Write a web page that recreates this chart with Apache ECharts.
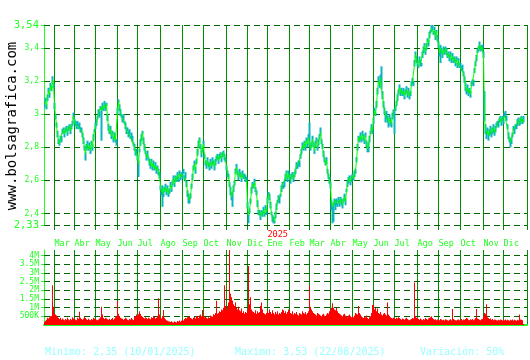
<!DOCTYPE html>
<html><head><meta charset="utf-8">
<script src="https://cdn.jsdelivr.net/npm/echarts@6/dist/echarts.min.js"></script>
<style>html,body{margin:0;padding:0;background:#fff}#c{width:530px;height:360px}</style>
</head><body><div id="c"></div>
<script>
// Month labels and the trading-day index where each month starts
const monthLabels = ['Mar','Abr','May','Jun','Jul','Ago','Sep','Oct','Nov','Dic','Ene','Feb','Mar','Abr','May','Jun','Jul','Ago','Sep','Oct','Nov','Dic'];
const monthStarts = [10,30,51,73,93,116,138,159,182,203,223,245,265,286,308,329,350,373,394,416,439,459];
const yearLabels = ['2025'];
const yearStarts = [223];

// Daily close price (Feb 2024 tail .. Dec 2025)
const closePrice = [
3.06,3.08,3.05,3.10,3.14,3.12,3.17,3.15,3.21,3.18,
3.05,2.99,2.93,2.88,2.84,2.82,2.86,2.85,2.89,2.91,2.88,2.90,2.92,2.89,2.91,2.93,2.90,2.92,2.95,2.99,
2.96,2.94,2.93,2.95,2.92,2.93,2.91,2.90,2.88,2.84,2.79,2.76,2.80,2.82,2.79,2.81,2.78,2.83,2.80,2.86,2.90,
2.93,2.95,2.98,3.01,3.00,3.04,3.02,3.05,3.03,3.06,3.04,3.06,2.98,2.92,2.89,2.91,2.87,2.89,2.85,2.87,2.84,2.83,
3.02,3.08,3.04,3.01,2.99,2.97,2.98,2.95,2.93,2.90,2.91,2.88,2.89,2.86,2.87,2.85,2.82,2.80,2.77,2.78,
2.74,2.70,2.78,2.83,2.86,2.89,2.84,2.80,2.77,2.74,2.76,2.73,2.71,2.69,2.72,2.68,2.70,2.67,2.69,2.66,2.68,2.65,2.63,
2.56,2.53,2.55,2.52,2.54,2.56,2.53,2.55,2.52,2.54,2.57,2.55,2.59,2.61,2.58,2.62,2.60,2.63,2.61,2.64,2.62,2.64,
2.63,2.65,2.62,2.63,2.58,2.53,2.50,2.48,2.51,2.56,2.62,2.68,2.70,2.66,2.72,2.76,2.82,2.85,2.80,2.76,2.79,
2.82,2.74,2.71,2.69,2.72,2.70,2.68,2.71,2.69,2.72,2.70,2.68,2.71,2.73,2.75,2.72,2.74,2.76,2.73,2.75,2.77,2.74,2.72,
2.68,2.64,2.62,2.58,2.54,2.50,2.52,2.55,2.58,2.66,2.68,2.64,2.62,2.65,2.63,2.61,2.64,2.62,2.63,2.61,2.60,
2.45,2.39,2.42,2.47,2.54,2.58,2.56,2.59,2.55,2.52,2.46,2.41,2.40,2.38,2.41,2.39,2.42,2.40,2.43,2.41,
2.48,2.52,2.50,2.45,2.40,2.37,2.36,2.35,2.39,2.44,2.47,2.49,2.48,2.51,2.55,2.57,2.56,2.58,2.62,2.65,2.61,2.64,
2.63,2.60,2.62,2.64,2.61,2.63,2.66,2.69,2.68,2.71,2.70,2.74,2.78,2.81,2.79,2.83,2.80,2.84,2.82,2.86,
2.83,2.79,2.82,2.85,2.81,2.78,2.82,2.84,2.80,2.83,2.86,2.89,2.84,2.80,2.76,2.73,2.70,2.72,2.66,2.62,2.60,
2.57,2.47,2.44,2.43,2.48,2.46,2.47,2.45,2.48,2.46,2.49,2.47,2.45,2.48,2.50,2.47,2.54,2.58,2.60,2.62,2.59,2.61,
2.63,2.61,2.64,2.66,2.72,2.80,2.86,2.84,2.87,2.85,2.88,2.86,2.84,2.87,2.82,2.79,2.81,2.85,2.89,2.92,2.90,
2.96,3.02,3.00,3.06,3.14,3.20,3.18,3.22,3.16,3.11,3.06,3.02,2.99,3.00,2.97,2.95,2.98,2.96,2.94,2.99,3.01,
3.00,3.04,3.06,3.10,3.14,3.16,3.13,3.15,3.12,3.14,3.11,3.13,3.15,3.12,3.14,3.11,3.13,3.18,3.20,3.19,3.30,3.36,3.33,
3.31,3.29,3.33,3.31,3.30,3.36,3.39,3.42,3.38,3.41,3.45,3.43,3.48,3.50,3.52,3.53,3.49,3.51,3.47,3.50,3.46,
3.42,3.37,3.40,3.38,3.36,3.39,3.37,3.40,3.38,3.35,3.37,3.34,3.36,3.33,3.35,3.32,3.34,3.31,3.33,3.30,3.32,3.29,
3.30,3.27,3.28,3.25,3.21,3.17,3.14,3.16,3.13,3.15,3.12,3.18,3.20,3.19,3.26,3.31,3.34,3.38,3.40,3.42,3.39,3.41,3.40,
3.36,2.98,2.91,2.88,2.90,2.87,2.89,2.91,2.88,2.90,2.92,2.89,2.91,2.93,2.95,2.94,2.96,2.98,2.95,2.97,
2.96,2.99,3.00,2.98,2.92,2.87,2.85,2.83,2.84,2.88,2.91,2.90,2.93,2.92,2.95,2.97,2.94,2.96,2.98,2.95,2.97
];

// Daily high above close, cents
const highAboveC = [
2,2,1,2,2,1,2,2,2,1,
2,1,2,2,1,2,1,2,2,1,2,2,1,2,2,1,2,2,1,2,
1,2,2,1,2,2,1,2,1,2,2,1,2,2,1,2,2,1,2,2,1,
2,2,1,2,2,1,2,2,1,2,2,1,2,2,1,2,2,1,2,2,1,2,
2,1,2,2,1,2,2,1,2,2,1,2,2,1,2,2,1,2,2,1,
2,2,1,2,2,1,2,2,1,2,2,1,2,2,1,2,2,1,2,2,1,2,2,
1,2,2,1,2,2,1,2,2,1,2,2,1,2,2,1,2,2,1,2,2,1,
2,2,1,2,2,1,2,2,1,2,2,1,2,2,1,3,2,1,2,2,1,
2,2,1,2,2,1,2,2,1,2,2,1,2,2,1,2,2,1,2,2,1,2,2,
1,2,2,1,2,2,1,2,2,1,2,2,1,2,2,1,2,2,1,2,2,
2,2,1,2,2,1,2,2,1,2,2,1,2,2,1,2,2,1,2,2,
2,1,2,2,1,2,2,1,2,2,1,2,2,1,2,2,1,2,2,1,2,2,
1,2,2,1,2,2,1,2,2,1,2,2,1,2,2,1,2,2,1,2,
12,2,1,2,2,1,2,2,1,2,2,3,1,2,2,1,2,2,1,2,2,
2,1,2,2,1,2,2,1,2,2,1,2,2,1,2,2,1,2,2,1,2,2,
1,2,2,1,2,2,1,2,2,1,2,2,1,2,2,1,2,2,1,2,2,
2,2,1,2,2,3,2,2,13,3,2,2,1,2,2,1,2,2,1,2,2,
2,1,2,2,1,2,2,1,2,2,1,2,2,1,2,2,1,2,2,1,3,2,2,
2,1,2,2,1,2,2,1,2,2,1,2,2,1,2,2,1,2,2,1,2,
2,1,2,2,1,2,2,1,2,2,1,2,2,1,2,2,1,2,2,1,2,2,
1,2,2,1,2,2,1,2,2,1,2,2,1,2,2,1,2,2,1,2,2,1,2,
2,16,3,2,2,1,2,2,1,2,2,1,2,2,1,2,2,1,2,2,
1,2,2,1,2,2,1,2,2,1,2,2,1,2,2,1,2,2,1,2,2
];

// Daily low below close, cents
const lowBelowC = [
2,1,2,2,1,2,2,1,2,2,
2,2,1,2,2,1,2,2,1,2,2,1,2,2,1,2,2,1,2,2,
2,1,2,2,1,2,2,1,2,2,1,4,2,2,1,2,2,1,2,2,1,
2,2,1,2,2,1,18,2,1,2,2,1,2,2,1,2,2,1,2,2,1,2,
2,1,2,2,1,2,2,1,2,2,1,2,2,1,2,2,1,2,2,2,
2,8,1,2,2,1,2,2,1,2,2,1,2,2,1,2,2,1,2,2,1,2,2,
2,2,11,2,1,2,2,1,2,2,1,2,2,1,2,2,1,2,2,1,2,2,
2,1,2,2,2,3,4,2,2,1,2,2,1,2,2,1,2,2,1,2,2,
2,1,2,2,1,2,2,1,2,2,1,2,2,1,2,2,1,2,2,1,2,2,1,
2,2,1,2,3,2,8,2,1,2,2,1,2,2,1,2,2,1,2,2,1,
2,5,2,1,2,2,1,2,2,1,2,2,1,2,2,1,2,2,1,2,
2,1,2,2,1,2,2,1,2,2,1,2,2,1,2,2,1,2,2,1,2,2,
2,2,1,2,2,1,2,2,1,2,2,1,2,2,1,2,2,1,2,2,
2,1,2,2,1,2,2,1,2,2,1,2,2,1,2,2,1,2,2,1,2,
2,5,10,8,3,4,2,1,2,2,1,2,2,1,2,2,1,2,2,1,2,2,
2,1,2,2,1,2,2,1,2,2,1,2,2,1,2,2,4,2,1,2,2,
2,2,1,2,2,1,2,2,1,2,2,2,4,3,2,3,2,3,2,2,2,
12,2,1,2,2,1,2,2,1,2,2,1,2,2,1,2,2,1,2,2,1,2,2,
2,1,2,2,1,2,2,1,2,2,1,2,2,1,2,2,1,2,2,1,2,
2,2,9,1,2,2,1,2,2,1,2,2,1,2,2,1,2,2,1,2,2,1,
2,1,2,2,2,3,2,3,2,2,2,1,2,2,1,2,2,1,2,2,1,2,2,
2,2,3,3,2,3,2,3,2,2,3,2,2,1,2,2,1,2,2,1,
2,1,2,2,1,2,2,3,2,2,1,2,2,1,2,2,1,2,2,1,2
];

// Daily volume, thousands of shares
const volumeK = [
180,250,300,420,380,450,500,520,2300,1050,
650,600,550,480,400,350,420,300,380,320,280,350,300,420,330,280,360,310,450,380,
330,300,280,420,360,770,420,350,310,380,480,400,330,290,360,310,270,340,300,420,380,
350,300,280,320,380,450,1050,600,400,350,420,380,330,300,360,290,340,410,300,380,450,520,
1380,650,500,420,380,360,300,340,420,380,300,280,350,320,400,330,290,480,520,600,
550,620,800,650,520,480,420,380,450,400,350,420,380,330,450,400,520,480,380,420,500,1540,600,
450,380,520,870,420,330,280,250,220,200,180,220,160,140,200,180,150,230,200,260,190,240,
300,260,350,420,380,450,500,480,400,380,330,420,460,380,520,480,400,550,600,500,870,
520,450,480,420,380,450,400,550,500,480,620,580,700,1400,650,700,800,750,900,850,1000,2300,1100,
900,1100,1300,4500,1800,1600,1400,1200,1100,1300,1000,900,1050,850,800,950,700,800,650,750,700,
900,3400,1200,1600,900,800,750,700,850,650,800,700,750,1100,1300,900,700,650,600,700,
800,700,900,750,650,850,700,600,750,650,800,600,700,650,750,900,850,700,800,650,750,900,
850,700,650,800,600,700,650,750,600,550,700,650,600,800,700,650,750,600,700,800,
2270,1050,900,800,700,650,600,550,700,650,600,550,500,600,650,550,500,600,700,650,800,
900,1000,1250,1000,900,850,1000,800,700,650,600,550,500,600,650,550,500,450,550,600,500,450,
500,450,550,700,650,600,1100,700,600,500,450,400,500,450,550,400,350,450,500,700,1150,
1150,900,1000,800,950,700,650,750,600,550,650,700,600,550,1300,600,500,450,400,380,420,
400,350,420,380,450,400,350,300,380,350,300,380,420,350,300,280,320,350,400,380,2460,500,420,
400,350,300,380,320,280,350,300,400,350,300,380,420,450,500,400,350,300,330,280,320,
300,280,350,320,280,300,260,330,300,280,250,300,330,280,920,350,300,280,260,300,320,280,
300,350,280,320,300,350,400,380,300,280,330,300,350,280,320,400,920,380,350,300,280,330,350,
500,700,650,1200,450,400,350,380,300,350,280,320,300,280,260,300,280,320,300,260,
300,280,320,260,300,280,250,300,280,320,260,300,280,250,300,280,600,320,300,280,60
];

const priceTicks = [2.33, 2.4, 2.6, 2.8, 3, 3.2, 3.4, 3.54];
const priceEdgeTicks = [2.33, 3.54];
const volumeTicks = [500, 1000, 1500, 2000, 2500, 3000, 3500, 4000];
const statTexts = ['Minimo: 2,35 (10/01/2025)', 'Maximo: 3,53 (22/08/2025)', 'Variación: 50%'];
const watermark = 'www.bolsagrafica.com';

const slots = closePrice.length + 3;
const categories = Array.from({length: slots}, (_, i) => String(i));
const isMonth = (i) => monthStarts.indexOf(i) >= 0;
const lowSeries = closePrice.map((c, i) => +(c - lowBelowC[i] / 100).toFixed(4));
const spanSeries = closePrice.map((c, i) => +((highAboveC[i] + lowBelowC[i]) / 100).toFixed(4));

const MONO = '"DejaVu Sans Mono", "Liberation Mono", monospace';
const BRIGHT = '#22ff22';
const VGRID = '#008c00';
const HGRID = '#006400';

const dashed = (vals) => ({
  silent: true, symbol: 'none', z: 1, animation: false,
  label: {show: false},
  lineStyle: {color: HGRID, type: [6, 4], width: 1},
  data: vals.map(v => ({yAxis: v}))
});

const chart = echarts.init(document.getElementById('c'), null, {renderer: 'canvas'});
chart.setOption({
  animation: false,
  backgroundColor: '#fff',
  grid: [
    {left: 44, width: 483, top: 25, height: 200},
    {left: 44, width: 483, top: 250, height: 75}
  ],
  xAxis: [
    {
      gridIndex: 0, type: 'category', data: categories, boundaryGap: true,
      axisLine: {show: false},
      axisTick: {show: true, interval: (i) => isMonth(i), length: 5, lineStyle: {color: VGRID, width: 1}},
      splitLine: {show: true, interval: (i) => isMonth(i), lineStyle: {color: VGRID, width: 1}},
      axisLabel: {
        show: true, interval: (i) => isMonth(i), align: 'left', margin: 6,
        fontFamily: MONO,
        formatter: (v) => {
          const idx = Number(v);
          const m = monthStarts.indexOf(idx);
          if (m < 0) return '';
          const y = yearStarts.indexOf(idx);
          return '{y|' + (y >= 0 ? yearLabels[y] : ' ') + '}\n{m|' + monthLabels[m] + '}';
        },
        rich: {
          y: {color: '#ff0000', fontSize: 8.5, fontFamily: MONO, lineHeight: 8},
          m: {color: BRIGHT, fontSize: 8.5, fontFamily: MONO, lineHeight: 9}
        }
      }
    },
    {
      gridIndex: 1, type: 'category', data: categories, boundaryGap: true,
      axisLine: {show: true, lineStyle: {color: BRIGHT, width: 2}},
      axisTick: {show: false},
      axisLabel: {show: false},
      splitLine: {show: true, interval: (i) => isMonth(i), lineStyle: {color: VGRID, width: 1}}
    }
  ],
  yAxis: [
    {
      gridIndex: 0, type: 'value', min: priceTicks[0], max: priceTicks[priceTicks.length - 1],
      axisLine: {show: true, lineStyle: {color: BRIGHT, width: 1}},
      axisTick: {show: true, customValues: priceTicks, length: 3, lineStyle: {color: BRIGHT}},
      splitLine: {show: false},
      axisLabel: {
        customValues: priceTicks, margin: 5, fontFamily: MONO,
        formatter: (v) => {
          const t = String(Math.round(v * 100) / 100).replace('.', ',');
          return priceEdgeTicks.some(e => Math.abs(e - v) < 1e-6) ? '{b|' + t + '}' : '{s|' + t + '}';
        },
        rich: {
          b: {color: BRIGHT, fontSize: 10.5, fontFamily: MONO},
          s: {color: BRIGHT, fontSize: 8, fontFamily: MONO}
        }
      }
    },
    {
      gridIndex: 1, type: 'value', min: 0, max: 4330,
      axisLine: {show: true, lineStyle: {color: BRIGHT, width: 1}},
      axisTick: {show: true, customValues: volumeTicks, length: 3, lineStyle: {color: BRIGHT}},
      splitLine: {show: false},
      axisLabel: {
        customValues: volumeTicks, margin: 5, fontFamily: MONO, fontSize: 8, color: BRIGHT,
        formatter: (v) => v >= 1000 ? (v / 1000) + 'M' : v + 'K'
      }
    }
  ],
  series: [
    {
      name: 'lowBase', type: 'bar', stack: 'hl', xAxisIndex: 0, yAxisIndex: 0, data: lowSeries,
      barWidth: 2, itemStyle: {color: 'rgba(0,0,0,0)'}, z: 2, silent: true,
      markLine: dashed(priceTicks)
    },
    {
      name: 'range', type: 'bar', stack: 'hl', xAxisIndex: 0, yAxisIndex: 0, data: spanSeries,
      barWidth: 2, itemStyle: {color: '#0ab4be'}, z: 2
    },
    {
      name: 'close', type: 'line', xAxisIndex: 0, yAxisIndex: 0, data: closePrice,
      showSymbol: false, symbol: 'none', z: 3,
      lineStyle: {color: '#00ff00', width: 1}
    },
    {
      name: 'volume', type: 'bar', xAxisIndex: 1, yAxisIndex: 1, data: volumeK,
      barCategoryGap: '0%', barGap: '0%', z: 2,
      itemStyle: {color: '#ff0000'},
      markLine: dashed(volumeTicks)
    }
  ],
  graphic: [
    {type: 'text', x: 12, y: 126, rotation: Math.PI / 2,
     style: {text: watermark, fill: '#000', font: '14px ' + MONO, textAlign: 'center', textVerticalAlign: 'middle'}},
    {type: 'text', x: 45, y: 352, style: {text: statTexts[0], fill: '#9ff', font: '10px ' + MONO, textVerticalAlign: 'middle'}},
    {type: 'text', x: 235, y: 352, style: {text: statTexts[1], fill: '#9ff', font: '10px ' + MONO, textVerticalAlign: 'middle'}},
    {type: 'text', x: 420, y: 352, style: {text: statTexts[2], fill: '#9ff', font: '10px ' + MONO, textVerticalAlign: 'middle'}}
  ]
});
</script></body></html>
